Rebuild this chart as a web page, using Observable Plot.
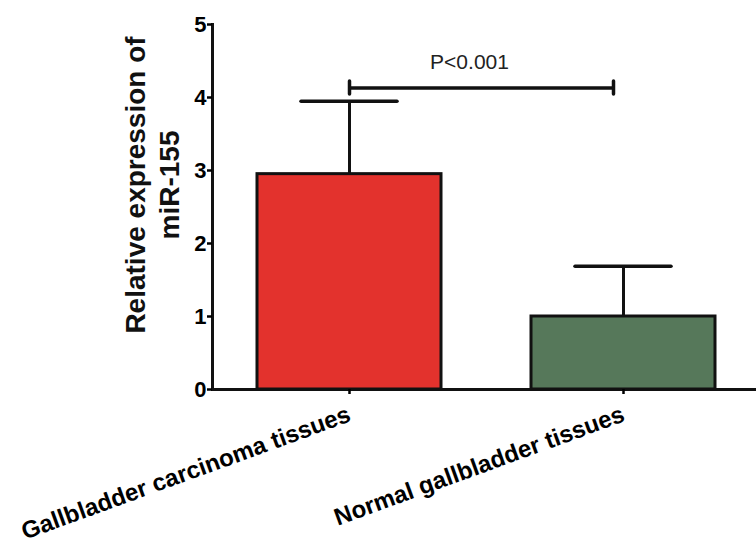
<!DOCTYPE html>
<html>
<head>
<meta charset="utf-8">
<script src="https://cdn.jsdelivr.net/npm/d3@7"></script>
<script src="https://cdn.jsdelivr.net/npm/@observablehq/plot@0.6"></script>
<style>
  html, body { margin: 0; padding: 0; background: #fff; }
  #chart svg { font-family: "Liberation Sans", Arial, sans-serif; display: block; }
</style>
</head>
<body>
<div id="chart"></div>
<script>
const categories = ["Gallbladder carcinoma tissues", "Normal gallbladder tissues"];
const means = [2.95, 1.0];
const errors = [1.0, 0.69];
const barColors = ["#e3322d", "#56785a"];
const yTicks = [0, 1, 2, 3, 4, 5];
const yLabel = "Relative expression of\nmiR-155";
const pLabel = "P<0.001";
const bracketValue = 4.13;

const rows = categories.map((c, i) => ({cat: c, mean: means[i], top: means[i] + errors[i], color: barColors[i]}));
const bracket = [{from: categories[0], to: categories[1], y: bracketValue}];

const chart = Plot.plot({
  width: 756,
  height: 544,
  marginLeft: 212,
  marginRight: 0,
  marginTop: 24,
  marginBottom: 155,
  style: {fontFamily: "Liberation Sans, Arial, sans-serif", background: "#fff"},
  x: {type: "band", domain: categories, range: [212, 760], paddingInner: 0.33, paddingOuter: 0.165, label: null},
  y: {domain: [0, 5], label: null},
  marks: [
    Plot.barY(rows, {x: "cat", y: "mean", fill: "color", stroke: "#111", strokeWidth: 3}),
    Plot.ruleX(rows, {x: "cat", y1: "mean", y2: "top", stroke: "#111", strokeWidth: 3}),
    Plot.tickY(rows, {x: "cat", y: "top", stroke: "#111", strokeWidth: 3.5, strokeLinecap: "round", insetLeft: 44, insetRight: 44}),
    Plot.ruleY(bracket, {x1: "from", x2: "to", y: "y", stroke: "#111", strokeWidth: 3.5, insetLeft: 91, insetRight: 101}),
    Plot.ruleX(bracket, {x: "from", y1: d => d.y - 0.09, y2: d => d.y + 0.09, stroke: "#111", strokeWidth: 3.5, strokeLinecap: "round"}),
    Plot.ruleX(bracket, {x: "to", y1: d => d.y - 0.09, y2: d => d.y + 0.09, dx: -10, stroke: "#111", strokeWidth: 3.5, strokeLinecap: "round"}),
    Plot.text(bracket, {x: "from", y: "y", text: () => pLabel, dx: 120, dy: -26, fontSize: 21, fill: "#222"}),
    Plot.ruleY([0], {stroke: "#111", strokeWidth: 3}),
    Plot.frame({anchor: "left", stroke: "#111", strokeWidth: 3}),
    Plot.axisY({ticks: yTicks, tickSize: 5, tickPadding: 1, strokeWidth: 2.5, fontSize: 22, fontWeight: "bold", label: null, tickFormat: d3.format("d")}),
    Plot.axisX({tickSize: 5, tickPadding: 19, strokeWidth: 2.5, tickRotate: -20, fontSize: 24, fontWeight: "bold", label: null}),
    Plot.text([yLabel], {frameAnchor: "left", textAnchor: "middle", rotate: -90, dx: -61, dy: -22, fontSize: 28, fontWeight: "bold", lineHeight: 1.2, fill: "#111"})
  ]
});
document.getElementById("chart").appendChild(chart);
</script>
</body>
</html>
